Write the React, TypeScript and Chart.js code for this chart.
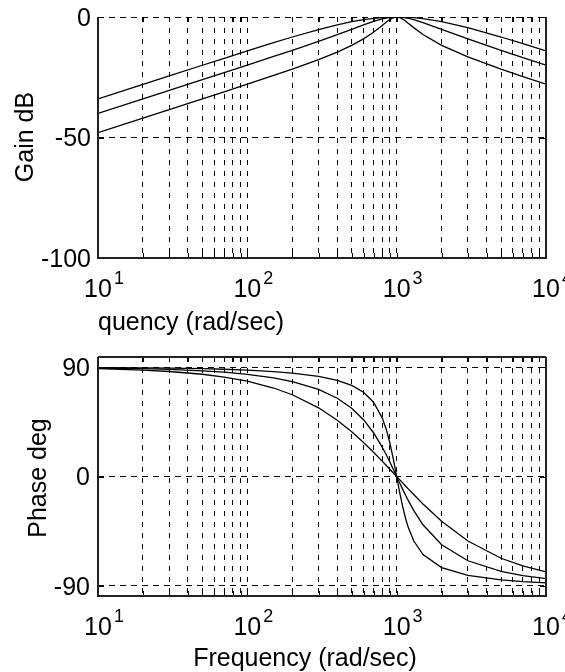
import React, { useEffect, useRef } from 'react';
import { Chart, registerables } from 'chart.js';

Chart.register(...registerables);

// ---- data ----
const frequencies = [10, 20, 30, 50, 70, 100, 150, 200, 300, 400, 500, 600, 700, 800, 850, 900, 950, 1000, 1050, 1100, 1150, 1200, 1300, 1500, 2000, 3000, 5000, 7000, 10000];

const gainA = [-33.98, -27.96, -24.44, -20.02, -17.12, -14.07, -10.65, -8.3, -5.19, -3.23, -1.94, -1.09, -0.54, -0.21, -0.11, -0.05, -0.01, 0, -0.01, -0.04, -0.08, -0.14, -0.3, -0.7, -1.94, -4.44, -8.3, -11.06, -14.07];
const gainB = [-40.0, -33.98, -30.45, -26.01, -23.08, -19.96, -16.38, -13.81, -10.09, -7.33, -5.12, -3.3, -1.85, -0.8, -0.44, -0.19, -0.05, 0, -0.04, -0.16, -0.33, -0.55, -1.08, -2.29, -5.12, -9.09, -13.81, -16.81, -19.96];
const gainC = [-47.96, -41.94, -38.41, -33.96, -31.02, -27.88, -24.26, -21.61, -17.67, -14.56, -11.78, -9.09, -6.35, -3.55, -2.22, -1.07, -0.28, 0, -0.25, -0.89, -1.74, -2.65, -4.41, -7.28, -11.78, -16.57, -21.61, -24.7, -27.88];

const phaseA = [88.85, 87.71, 86.56, 84.28, 81.99, 78.58, 72.94, 67.38, 56.6, 46.4, 36.87, 28.07, 20.02, 12.68, 9.27, 6.03, 2.94, 0, -2.79, -5.45, -7.98, -10.39, -14.86, -22.62, -36.87, -53.13, -67.38, -73.74, -78.58];
const phaseB = [89.43, 88.85, 88.28, 87.13, 85.98, 84.23, 81.28, 78.23, 71.75, 64.54, 56.31, 46.85, 36.07, 24.23, 18.08, 11.92, 5.86, 0, -5.58, -10.81, -15.67, -20.14, -27.96, -39.81, -56.31, -69.44, -78.23, -81.7, -84.23];
const phaseC = [89.77, 89.54, 89.31, 88.85, 88.39, 87.69, 86.49, 85.24, 82.49, 79.22, 75.07, 69.44, 61.23, 48.37, 39.21, 27.82, 14.39, 0, -13.71, -25.51, -35.04, -42.51, -53.0, -64.36, -75.07, -81.47, -85.24, -86.66, -87.69];

const xDecades = [10, 100, 1000, 10000];
const xExponents = ['1', '2', '3', '4'];
const minorMultipliers = [2, 3, 4, 5, 6, 7, 8, 9];
const gainTicks = [0, -50, -100];
const phaseTicks = [90, 0, -90];
const gainRange = [-100, 0];
const phaseRange = [-98.5, 98.5];

const FONT = "'Liberation Sans', Arial, sans-serif";

const xGridValues: number[] = [];
xDecades.forEach((d, i) => {
  xGridValues.push(d);
  if (i < xDecades.length - 1) minorMultipliers.forEach((m) => xGridValues.push(d * m));
});

type FrameOpts = {
  yTicks: number[];
  yLabelRight: number;
  yLabelDy: number;
  yTitle: string;
  yTitleBaselineX: number;
  yTitleCenterY: number;
  xTitle: string;
  xTitleX: number;
  xTitleY: number;
  xTitleAlign: CanvasTextAlign;
  topBorder: boolean;
  xLabelOffset: number;
};

function makeFramePlugin(o: FrameOpts) {
  return {
    id: 'bodeFrame',
    afterDraw(chart: any) {
      const { ctx, chartArea: a, scales } = chart;
      const xs = scales.x;
      const ys = scales.y;
      ctx.save();
      ctx.setLineDash([]);
      // inner tick marks
      ctx.strokeStyle = '#000';
      ctx.lineWidth = 1;
      ctx.beginPath();
      xGridValues.forEach((v) => {
        const px = Math.round(xs.getPixelForValue(v)) + 0.5;
        ctx.moveTo(px, a.bottom);
        ctx.lineTo(px, a.bottom - 5);
        ctx.moveTo(px, a.top);
        ctx.lineTo(px, a.top + 5);
      });
      o.yTicks.forEach((v) => {
        const py = Math.round(ys.getPixelForValue(v)) + 0.5;
        ctx.moveTo(a.left, py);
        ctx.lineTo(a.left + 6, py);
        ctx.moveTo(a.right, py);
        ctx.lineTo(a.right - 6, py);
      });
      ctx.stroke();
      // box
      ctx.strokeStyle = '#222';
      ctx.lineWidth = 2;
      ctx.beginPath();
      if (o.topBorder) {
        ctx.moveTo(a.left, a.top);
        ctx.lineTo(a.right, a.top);
      }
      ctx.moveTo(a.left, a.top);
      ctx.lineTo(a.left, a.bottom);
      ctx.lineTo(a.right, a.bottom);
      ctx.lineTo(a.right, a.top);
      ctx.stroke();

      // y tick labels
      ctx.fillStyle = '#000';
      ctx.font = `25px ${FONT}`;
      ctx.textAlign = 'right';
      ctx.textBaseline = 'middle';
      o.yTicks.forEach((v) => {
        ctx.fillText(String(v), o.yLabelRight, ys.getPixelForValue(v) + o.yLabelDy);
      });

      // x tick labels 10^n
      ctx.textBaseline = 'alphabetic';
      xDecades.forEach((d, i) => {
        const px = xs.getPixelForValue(d);
        ctx.font = `25px ${FONT}`;
        ctx.textAlign = 'center';
        const w = ctx.measureText('10').width;
        const base = a.bottom + o.xLabelOffset;
        ctx.fillText('10', px, base);
        ctx.font = `18px ${FONT}`;
        ctx.textAlign = 'left';
        ctx.fillText(xExponents[i], px + w / 2 + 2, base - 13);
      });

      // axis titles
      ctx.font = `25px ${FONT}`;
      ctx.textAlign = o.xTitleAlign;
      ctx.fillText(o.xTitle, o.xTitleX, o.xTitleY);

      ctx.save();
      ctx.translate(o.yTitleBaselineX, o.yTitleCenterY);
      ctx.rotate(-Math.PI / 2);
      ctx.textAlign = 'center';
      ctx.textBaseline = 'alphabetic';
      ctx.fillText(o.yTitle, 0, 0);
      ctx.restore();

      ctx.restore();
    },
  };
}

function makeConfig(series: number[][], yRange: number[], yTicks: number[], padding: any, frame: FrameOpts): any {
  return {
    type: 'line',
    data: {
      datasets: series.map((s) => ({
        data: frequencies.map((f, i) => ({ x: f, y: s[i] })),
        borderColor: '#000',
        borderWidth: 1.3,
        pointRadius: 0,
        fill: false,
        tension: 0,
      })),
    },
    options: {
      animation: false,
      responsive: false,
      maintainAspectRatio: false,
      devicePixelRatio: 1,
      layout: { padding },
      plugins: { legend: { display: false }, tooltip: { enabled: false } },
      events: [],
      scales: {
        x: {
          type: 'logarithmic',
          min: xDecades[0],
          max: xDecades[xDecades.length - 1],
          afterBuildTicks: (s: any) => {
            s.ticks = xGridValues.map((v) => ({ value: v }));
          },
          afterFit: (s: any) => {
            s.height = 0;
          },
          ticks: { display: false },
          grid: { color: '#000', lineWidth: 1, drawTicks: false },
          border: { display: false, dash: [5, 6] },
        },
        y: {
          type: 'linear',
          min: yRange[0],
          max: yRange[1],
          afterBuildTicks: (s: any) => {
            s.ticks = yTicks.map((v) => ({ value: v }));
          },
          afterFit: (s: any) => {
            s.width = 0;
          },
          ticks: { display: false },
          grid: { color: '#000', lineWidth: 1, drawTicks: false },
          border: { display: false, dash: [6, 5] },
        },
      },
    },
    plugins: [makeFramePlugin(frame)],
  };
}

export default function App() {
  const topRef = useRef<HTMLCanvasElement | null>(null);
  const botRef = useRef<HTMLCanvasElement | null>(null);

  useEffect(() => {
    const top = new Chart(
      topRef.current as HTMLCanvasElement,
      makeConfig(
        [gainA, gainB, gainC],
        gainRange,
        gainTicks,
        { left: 98, right: 19, top: 17, bottom: 82 },
        {
          yTicks: gainTicks,
          yLabelRight: 91,
          yLabelDy: 2,
          yTitle: 'Gain dB',
          yTitleBaselineX: 33,
          yTitleCenterY: 137,
          xTitle: 'quency (rad/sec)',
          xTitleX: 98,
          xTitleY: 330,
          xTitleAlign: 'left',
          topBorder: false,
          xLabelOffset: 39,
        }
      )
    );
    const bottom = new Chart(
      botRef.current as HTMLCanvasElement,
      makeConfig(
        [phaseA, phaseB, phaseC],
        phaseRange,
        phaseTicks,
        { left: 98, right: 19, top: 17, bottom: 76 },
        {
          yTicks: phaseTicks,
          yLabelRight: 90,
          yLabelDy: 2,
          yTitle: 'Phase deg',
          yTitleBaselineX: 46,
          yTitleCenterY: 138,
          xTitle: 'Frequency (rad/sec)',
          xTitleX: 305,
          xTitleY: 326,
          xTitleAlign: 'center',
          topBorder: true,
          xLabelOffset: 39,
        }
      )
    );
    return () => {
      top.destroy();
      bottom.destroy();
    };
  }, []);

  return (
    <div style={{ position: 'absolute', left: 0, top: 0, width: 565, height: 672, background: '#fff' }}>
      <canvas ref={topRef} width={565} height={340} style={{ position: 'absolute', left: 0, top: 0, width: 565, height: 340 }} />
      <canvas ref={botRef} width={565} height={332} style={{ position: 'absolute', left: 0, top: 340, width: 565, height: 332 }} />
    </div>
  );
}
